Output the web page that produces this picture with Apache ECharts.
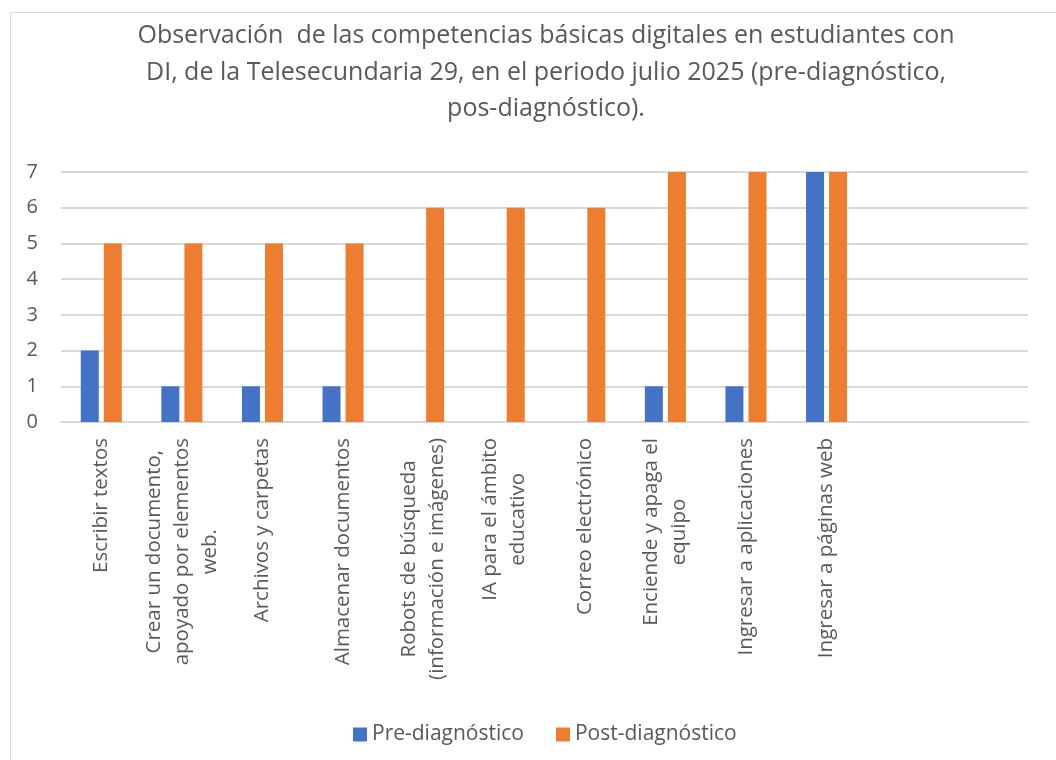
<!DOCTYPE html>
<html>
<head>
<meta charset="utf-8">
<script src="https://cdn.jsdelivr.net/npm/echarts@6/dist/echarts.min.js"></script>
<style>
  html, body { margin: 0; padding: 0; background: #fff; }
  #grafica { width: 1056px; height: 760px; }
</style>
</head>
<body>
<div id="grafica"></div>
<script>
// competencias (las dos ultimas categorias estan vacias en el original)
var categorias = [
    'Escribir textos',
    'Crear un documento,\napoyado por elementos\nweb.',
    'Archivos y carpetas',
    'Almacenar documentos',
    'Robots de búsqueda\n(información e imágenes)',
    'IA para el ámbito\neducativo',
    'Correo electrónico',
    'Enciende y apaga el\nequipo',
    'Ingresar a aplicaciones',
    'Ingresar a páginas web',
    '',
    ''
];
var preDiagnostico = [2, 1, 1, 1, 0, 0, 0, 1, 1, 7, null, null];
var postDiagnostico = [5, 5, 5, 5, 6, 6, 6, 7, 7, 7, null, null];
var nombres = ['Pre-diagnóstico', 'Post-diagnóstico'];

var gris = '#595959';
var fuente = 'Open Sans';

var myChart = echarts.init(document.getElementById('grafica'));
option = {
    backgroundColor: '#fff',
    title: {
        text: 'Observación  de las competencias básicas digitales en estudiantes con\nDI, de la Telesecundaria 29, en el periodo julio 2025 (pre-diagnóstico,\npos-diagnóstico).',
        left: 546,
        top: 18,
        padding: 0,
        textAlign: 'center',
        textStyle: {
            fontFamily: fuente,
            fontWeight: 'normal',
            fontSize: 25,
            lineHeight: 36.5,
            color: gris
        }
    },
    graphic: [{
        type: 'rect',
        shape: { x: 10.5, y: 12.5, width: 1100, height: 800 },
        style: { fill: 'none', stroke: '#d9d9d9', lineWidth: 1 },
        silent: true
    }],
    legend: {
        data: nombres,
        top: 719,
        left: 348,
        itemWidth: 14,
        itemHeight: 14,
        itemGap: 32,
        icon: 'rect',
        textStyle: { fontFamily: fuente, fontSize: 21, color: gris }
    },
    grid: {
        left: 61,
        right: 28,
        top: 172,
        bottom: 338
    },
    xAxis: {
        type: 'category',
        data: categorias,
        axisTick: { show: false },
        axisLine: { lineStyle: { color: '#d9d9d9', width: 2 } },
        axisLabel: {
            interval: 0,
            rotate: 90,
            margin: 16,
            color: gris,
            fontFamily: fuente,
            fontSize: 20.5,
            lineHeight: 28,
            formatter: function (v) {
                if (!v) return '';
                return v.split('\n').map(function (l) { return '{c|' + l + '}'; }).join('\n');
            },
            rich: {
                c: { align: 'center', fontFamily: fuente, fontSize: 20.5, lineHeight: 28, color: gris }
            }
        }
    },
    yAxis: {
        type: 'value',
        min: 0,
        max: 7,
        interval: 1,
        axisLine: { show: false },
        axisTick: { show: false },
        splitLine: { lineStyle: { color: '#d9d9d9', width: 2 } },
        axisLabel: {
            margin: 23,
            color: gris,
            fontFamily: fuente,
            fontSize: 20
        }
    },
    series: [
        {
            name: nombres[0],
            type: 'bar',
            data: preDiagnostico,
            barWidth: 18,
            barGap: '28%',
            itemStyle: { color: '#4472C4' }
        },
        {
            name: nombres[1],
            type: 'bar',
            data: postDiagnostico,
            barWidth: 18,
            itemStyle: { color: '#ED7D31' }
        }
    ]
};

myChart.setOption(option);
</script>
</body>
</html>
